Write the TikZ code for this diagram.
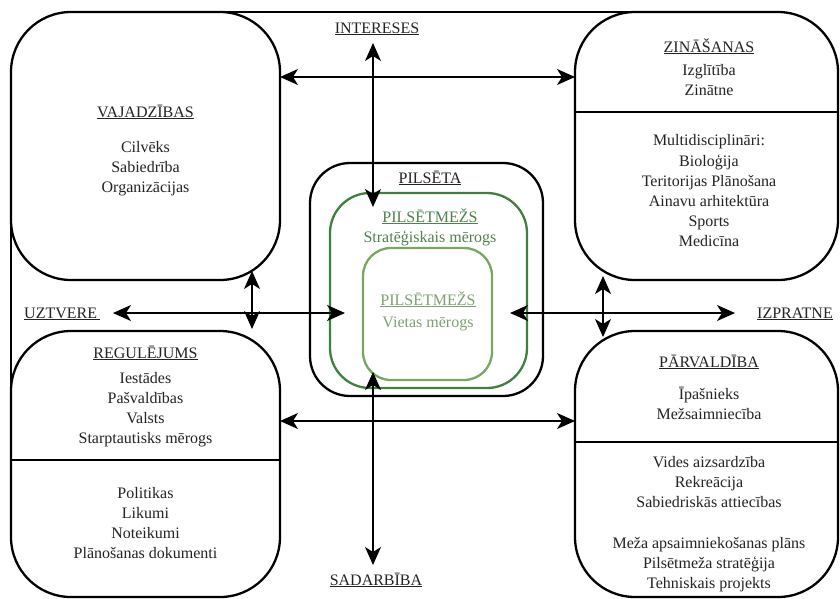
\documentclass[tikz,border=0pt]{standalone}
\usepackage{fontspec}
\setmainfont{Liberation Serif}
\usetikzlibrary{arrows.meta}
\definecolor{txtc}{RGB}{35,35,35}
\definecolor{dgreen}{RGB}{62,128,62}
\definecolor{lgreen}{RGB}{122,166,100}
\definecolor{dgtext}{RGB}{80,128,80}
\definecolor{lgtext}{RGB}{128,158,115}
\tikzset{
  bigbox/.style={draw=black, line width=2.3pt, fill=white, rounded corners=60pt, inner sep=0pt, outer sep=0pt},
  citybox/.style={draw=black, line width=2.3pt, rounded corners=40pt, inner sep=0pt, outer sep=0pt},
  forbox/.style={draw=dgreen, line width=2.3pt, rounded corners=40pt, inner sep=0pt, outer sep=0pt},
  locbox/.style={draw=lgreen, line width=2.3pt, rounded corners=28pt, inner sep=0pt, outer sep=0pt},
  txt/.style={inner sep=0pt, outer sep=0pt, text=txtc, font=\fontsize{16}{20}\selectfont, anchor=base},
  divline/.style={line width=2pt},
  frameline/.style={line width=2.3pt},
  arr/.style={line width=1.3pt, {Stealth[length=18pt,width=16pt,inset=5pt]}-{Stealth[length=18pt,width=16pt,inset=5pt]}}
}
\begin{document}
\begin{tikzpicture}[x=1pt,y=-1pt]
\useasboundingbox (0,0) rectangle (840,598);
% frame lines (behind the boxes)
\coordinate (fta) at (145,12);
\coordinate (ftr) at (706,12);
\coordinate (fla) at (11,146);
\coordinate (flb) at (11,464);
\draw[frameline] (fta) -- (ftr);
\draw[frameline] (fla) -- (flb);
% big boxes
\node[bigbox, minimum width=269pt, minimum height=268pt] (vaj) at (145.5,146) {};
\node[bigbox, minimum width=263pt, minimum height=268pt] (zin) at (706.5,146) {};
\node[bigbox, minimum width=269pt, minimum height=266pt] (reg) at (145.5,464) {};
\node[bigbox, minimum width=263pt, minimum height=266pt] (par) at (706.5,464) {};
% center boxes
\node[citybox, minimum width=233pt, minimum height=233pt] (city) at (426.5,279.5) {};
\node[forbox, minimum width=197pt, minimum height=195pt] (forest) at (428.5,290.5) {};
\node[locbox, minimum width=129pt, minimum height=132pt] (local) at (427.5,314) {};
% dividers
\coordinate (dz) at (0,112);
\coordinate (dr) at (0,460);
\coordinate (dp) at (0,442);
\draw[divline] (zin.west |- dz) -- (zin.east |- dz);
\draw[divline] (reg.west |- dr) -- (reg.east |- dr);
\draw[divline] (par.west |- dp) -- (par.east |- dp);
% axis labels
\node[txt] (intl) at (377,33) {\underline{INTERESES}};
\node[txt] (sadl) at (376,585) {\underline{SADARBĪBA}};
\node[txt] (uztl) at (62,318) {\underline{UZTVERE\,}};
\node[txt] (izpl) at (795,318) {\underline{IZPRATNE}};
% arrows
\coordinate (av1) at (373,43);
\coordinate (av2) at (373,207);
\coordinate (av3) at (373,372);
\coordinate (av4) at (373,565);
\coordinate (ah1) at (113,313);
\coordinate (ah2) at (345,313);
\coordinate (ah3) at (510,313);
\coordinate (ah4) at (735,313);
\coordinate (yt) at (0,77);
\coordinate (yb) at (0,421);
\coordinate (al1) at (252,271);
\coordinate (al2) at (252,329);
\coordinate (ar1) at (603,276);
\coordinate (ar2) at (603,337);
\draw[arr] (av1) -- (av2);
\draw[arr] (av3) -- (av4);
\draw[arr] (ah1) -- (ah2);
\draw[arr] (ah3) -- (ah4);
\draw[arr] (vaj.east |- yt) -- (zin.west |- yt);
\draw[arr] (reg.east |- yb) -- (par.west |- yb);
\draw[arr] (al1) -- (al2);
\draw[arr] (ar1) -- (ar2);
% VAJADZIBAS
\node[txt] (vajt) at (145.5,117) {\underline{VAJADZĪBAS}};
\foreach \y/\t [count=\i] in {147/Cilvēks,167/Sabiedrība,187/Organizācijas}
  \node[txt] (vaj\i) at (145.5,\y+5) {\t};
% ZINASANAS
\node[txt] (zint) at (709,52) {\underline{ZINĀŠANAS}};
\foreach \y/\t [count=\i] in {70/Izglītība,90/Zinātne,140/Multidisciplināri:,161/Bioloģija,181/Teritorijas Plānošana,201/Ainavu arhitektūra,221/Sports,241/Medicīna}
  \node[txt] (zin\i) at (709,\y+5) {\t};
% REGULEJUMS
\node[txt] (regt) at (145.5,358) {\underline{REGULĒJUMS}};
\foreach \y/\t [count=\i] in {378/Iestādes,398/Pašvaldības,418/Valsts,438/Starptautisks mērogs,493/Politikas,513/Likumi,533/Noteikumi,553/Plānošanas dokumenti}
  \node[txt] (reg\i) at (145.5,\y+5) {\t};
% PARVALDIBA
\node[txt] (part) at (709,367) {\underline{PĀRVALDĪBA}};
\foreach \y/\t [count=\i] in {394/Īpašnieks,414/Mežsaimniecība,462/Vides aizsardzība,482/Rekreācija,502/Sabiedriskās attiecības,543/Meža apsaimniekošanas plāns,563/Pilsētmeža stratēģija,583/Tehniskais projekts}
  \node[txt] (par\i) at (709,\y+5) {\t};
% centre texts
\node[txt] (cityt) at (430,183) {\underline{PILSĒTA}};
\node[txt, text=dgtext] (fort) at (430,222) {\underline{PILSĒTMEŽS}};
\node[txt, text=dgtext] (fors) at (430,242) {Stratēģiskais mērogs};
\node[txt, text=lgtext] (loct) at (428,305) {\underline{PILSĒTMEŽS}};
\node[txt, text=lgtext] (locs) at (428,327) {Vietas mērogs};
\end{tikzpicture}
\end{document}
